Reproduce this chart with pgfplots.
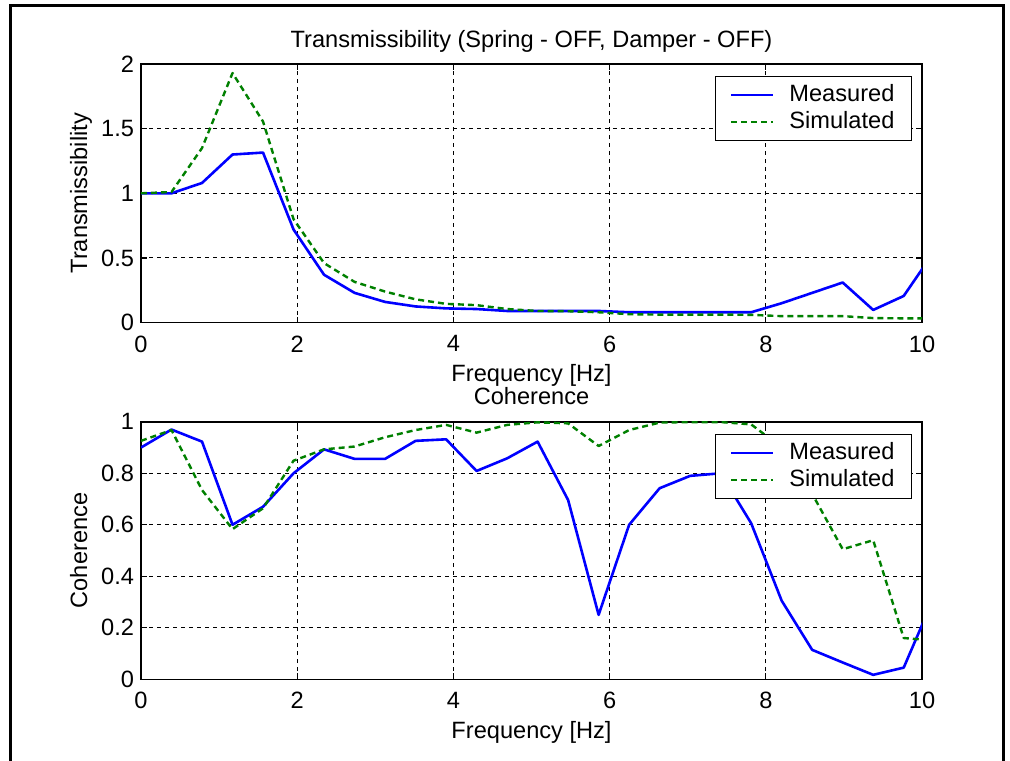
\documentclass[border=0pt]{standalone}
\usepackage{fontspec}
\setmainfont{Liberation Sans}
\usepackage{pgfplots}
\pgfplotsset{compat=1.18}
\usepackage{pgfplotstable}

\definecolor{mblue}{RGB}{0,0,255}
\definecolor{mgreen}{RGB}{0,128,0}
\newcommand{\myfont}{\fontsize{11.8}{13}\selectfont}

\pgfplotstableread{
x meas sim
0.0000 1.000 1.000
0.3906 1.000 1.010
0.7813 1.080 1.350
1.1719 1.300 1.930
1.5625 1.315 1.555
1.9531 0.720 0.800
2.3438 0.370 0.460
2.7344 0.230 0.315
3.1250 0.160 0.240
3.5156 0.125 0.180
3.9063 0.110 0.145
4.2969 0.105 0.135
4.6875 0.090 0.105
5.0781 0.090 0.090
5.4688 0.090 0.088
5.8594 0.090 0.080
6.2500 0.080 0.065
6.6406 0.080 0.062
7.0313 0.080 0.062
7.4219 0.080 0.062
7.8125 0.080 0.060
8.2031 0.150 0.050
8.5938 0.230 0.050
8.9844 0.310 0.050
9.3750 0.098 0.035
9.7656 0.206 0.033
10.1563 0.550 0.033
}\transtable

\pgfplotstableread{
x meas sim
0.0000 0.900 0.926
0.3906 0.970 0.968
0.7813 0.923 0.735
1.1719 0.600 0.583
1.5625 0.670 0.664
1.9531 0.800 0.849
2.3438 0.893 0.893
2.7344 0.856 0.904
3.1250 0.856 0.940
3.5156 0.926 0.968
3.9063 0.932 0.988
4.2969 0.809 0.958
4.6875 0.858 0.988
5.0781 0.923 0.998
5.4688 0.696 0.994
5.8594 0.250 0.906
6.2500 0.600 0.968
6.6406 0.742 0.997
7.0313 0.790 0.999
7.4219 0.800 0.999
7.8125 0.606 0.990
8.2031 0.305 0.900
8.5938 0.114 0.720
8.9844 0.065 0.505
9.3750 0.017 0.540
9.7656 0.045 0.160
10.1563 0.320 0.150
}\cohtable

\pgfplotsset{
  mstyle/.style={
    scale only axis, width=390.5pt,
    xmin=0, xmax=10,
    xtick={0,2,...,10},
    grid=major,
    major grid style={black, line width=0.5pt, dash pattern=on 2pt off 2pt},
    axis line style={black, line width=0.7pt},
    tick align=inside, major tick length=3pt,
    tick style={black, line width=0.6pt},
    /pgf/number format/assume math mode=true,
    tick label style={font=\myfont, text=black},
    xticklabel style={yshift=-3pt},
    label style={font=\myfont},
    every axis title/.style={font=\myfont, at={(0.5,1)}, anchor=base, yshift=8.5pt},
    xlabel style={at={(0.5,0)}, anchor=base, yshift=-29.5pt},
    ylabel style={at={(axis description cs:0,0.5)}, anchor=base, yshift=27pt},
    legend style={at={(1,1)}, anchor=north east, xshift=-5pt, yshift=-6pt,
      draw=black, line width=0.6pt, fill=white, font=\myfont,
      inner xsep=7pt, inner ysep=2.75pt, row sep=0.5pt,
      nodes={inner sep=1.5pt, text height=8.3pt, text depth=1.7pt},
      /tikz/every odd column/.append style={column sep=6pt}},
    legend cell align=left,
    legend image code/.code={\draw[##1] (0pt,0pt) -- (21pt,0pt);},
    every axis plot/.append style={line join=round},
  }
}

\begin{document}
\begin{tikzpicture}
\useasboundingbox (0pt,0pt) rectangle (505pt,-380pt);
\draw[line width=1.5pt] (5pt,-390pt) -- (5pt,-2.8pt) -- (501.5pt,-2.8pt) -- (501.5pt,-390pt);

\begin{axis}[mstyle, at={(70.5pt,-161.3pt)}, anchor=south west, height=129.3pt,
  ymin=0, ymax=2, ytick={0,0.5,...,2},
  title={Transmissibility (Spring - OFF, Damper - OFF)},
  xlabel={Frequency [Hz]}, ylabel={Transmissibility}]
\addplot[mblue, line width=1.3pt] table[x=x, y=meas] {\transtable};
\addlegendentry{Measured}
\addplot[mgreen, line width=1.2pt, dash pattern=on 3pt off 2pt] table[x=x, y=sim] {\transtable};
\addlegendentry{Simulated}
\end{axis}

\begin{axis}[mstyle, at={(70.5pt,-339.6pt)}, anchor=south west, height=128.7pt,
  ymin=0, ymax=1, ytick={0,0.2,...,1},
  title={Coherence},
  xlabel={Frequency [Hz]}, ylabel={Coherence}]
\addplot[mblue, line width=1.3pt] table[x=x, y=meas] {\cohtable};
\addlegendentry{Measured}
\addplot[mgreen, line width=1.2pt, dash pattern=on 3pt off 2pt] table[x=x, y=sim] {\cohtable};
\addlegendentry{Simulated}
\end{axis}
\end{tikzpicture}
\end{document}
